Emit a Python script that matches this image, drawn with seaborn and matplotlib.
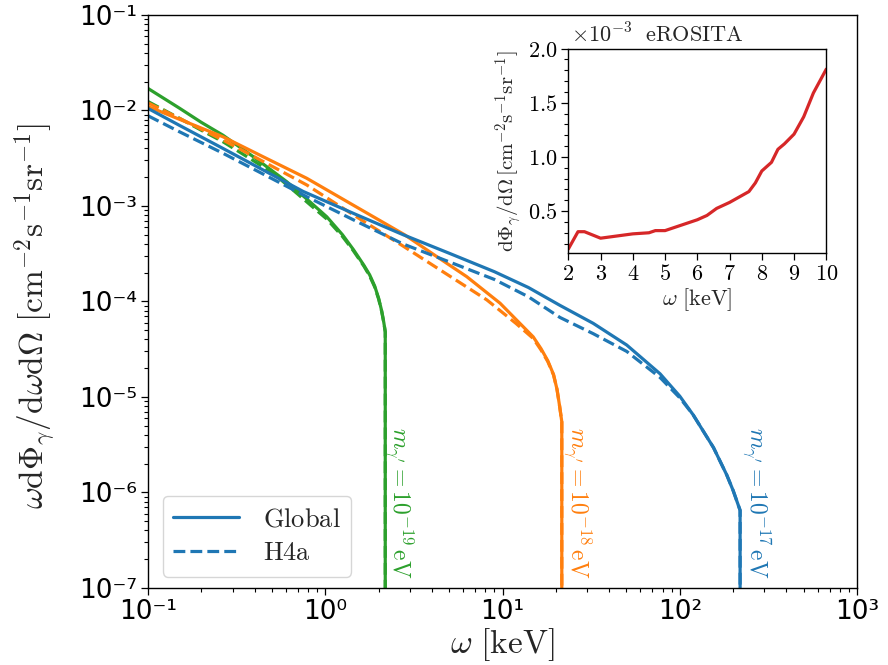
import numpy as np
import pandas as pd
import matplotlib
matplotlib.use("Agg")
import matplotlib.pyplot as plt
import seaborn as sns
from matplotlib.lines import Line2D
from matplotlib.ticker import FuncFormatter, LogLocator, MultipleLocator, NullFormatter

# ---------------- data ----------------
# m_gamma' = 1e-19 eV (green)
green_global_x = [0.1, 0.15, 0.2, 0.265, 0.4, 0.605, 0.8, 1.02, 1.25, 1.44, 1.65, 1.78, 1.9, 2.0, 2.08, 2.14, 2.18, 2.18]
green_global_y = [1.7e-2, 1.06e-2, 7.5e-3, 5.5e-3, 3.2e-3, 1.8e-3, 1.15e-3, 7.7e-4, 5.0e-4, 3.5e-4, 2.4e-4, 1.9e-4, 1.45e-4, 1.08e-4, 8.0e-5, 6.0e-5, 4.8e-5, 1e-9]
green_h4a_x = [0.1, 0.15, 0.2, 0.265, 0.38, 0.509, 0.7, 0.933, 1.02, 1.25, 1.44, 1.65, 1.78, 1.9, 2.0, 2.08, 2.14, 2.18, 2.18]
green_h4a_y = [1.24e-2, 8.3e-3, 6.2e-3, 4.7e-3, 3.1e-3, 2.2e-3, 1.33e-3, 8.4e-4, 7.3e-4, 4.8e-4, 3.4e-4, 2.35e-4, 1.85e-4, 1.42e-4, 1.06e-4, 7.9e-5, 6.0e-5, 4.8e-5, 1e-9]

# m_gamma' = 1e-18 eV (orange)
orange_global_x = [0.1, 0.15, 0.265, 0.45, 0.786, 1.5, 2.8, 4.2, 6.28, 9.68, 12.0, 14.9, 16.5, 18.0, 19.4, 20.3, 21.0, 21.6, 21.6]
orange_global_y = [1.1e-2, 8.1e-3, 5.3e-3, 3.25e-3, 1.95e-3, 9.75e-4, 5.0e-4, 3.0e-4, 1.82e-4, 9.6e-5, 6.4e-5, 4.26e-5, 3.2e-5, 2.4e-5, 1.72e-5, 1.2e-5, 8.0e-6, 5.5e-6, 1e-9]
orange_h4a_x = [0.1, 0.15, 0.265, 0.45, 0.786, 1.5, 2.75, 5.0, 8.15, 11.9, 14.9, 16.5, 18.0, 19.4, 20.3, 21.0, 21.6, 21.6]
orange_h4a_y = [1.2e-2, 8.3e-3, 4.9e-3, 2.9e-3, 1.66e-3, 7.7e-4, 3.8e-4, 1.86e-4, 1.04e-4, 5.9e-5, 4.1e-5, 3.1e-5, 2.35e-5, 1.7e-5, 1.2e-5, 8.0e-6, 5.5e-6, 1e-9]

# m_gamma' = 1e-17 eV (blue)
blue_global_x = [0.1, 0.15, 0.265, 0.45, 0.75, 1.5, 2.75, 5.0, 9.0, 14.0, 21.1, 32.5, 50.2, 77.4, 100.0, 119.0, 155.0, 184.0, 200.0, 219.0, 219.0]
blue_global_y = [1.05e-2, 7.0e-3, 4.0e-3, 2.36e-3, 1.42e-3, 8.1e-4, 5.0e-4, 3.2e-4, 2.05e-4, 1.4e-4, 9.1e-5, 5.9e-5, 3.5e-5, 1.75e-5, 1.02e-5, 6.5e-6, 2.95e-6, 1.53e-6, 1.05e-6, 6.5e-7, 1e-9]
blue_h4a_x = [0.1, 0.15, 0.265, 0.45, 0.786, 1.5, 2.75, 5.0, 9.0, 14.0, 21.1, 32.5, 50.2, 77.4, 100.0, 119.0, 155.0, 184.0, 200.0, 219.0, 219.0]
blue_h4a_y = [8.8e-3, 6.0e-3, 3.56e-3, 2.14e-3, 1.25e-3, 6.9e-4, 4.0e-4, 2.6e-4, 1.7e-4, 1.12e-4, 6.8e-5, 4.6e-5, 3.0e-5, 1.6e-5, 9.8e-6, 6.5e-6, 2.95e-6, 1.53e-6, 1.05e-6, 6.5e-7, 1e-9]

mass_labels = [r"$m_{\gamma^\prime}=10^{-19}\,\mathrm{eV}$",
               r"$m_{\gamma^\prime}=10^{-18}\,\mathrm{eV}$",
               r"$m_{\gamma^\prime}=10^{-17}\,\mathrm{eV}$"]
mass_label_x = [2.64, 26.7, 273.0]
model_names = ["Global", "H4a"]

# eROSITA inset
erosita_omega = [2.0, 2.3, 2.5, 3.0, 3.5, 4.0, 4.5, 4.7, 5.0, 5.5, 5.8, 6.0, 6.3, 6.6, 7.0, 7.3, 7.6, 7.8, 8.0, 8.3, 8.5, 8.7, 9.0, 9.3, 9.6, 10.0]
erosita_flux = np.array([0.15, 0.31, 0.31, 0.25, 0.27, 0.29, 0.30, 0.32, 0.32, 0.37, 0.40, 0.42, 0.46, 0.525, 0.58, 0.63, 0.68, 0.76, 0.87, 0.95, 1.07, 1.12, 1.21, 1.37, 1.59, 1.81]) * 1e-3

# ---------------- style ----------------
sns.set_style("ticks")
plt.rcParams["font.family"] = ["DejaVu Sans"]
plt.rcParams["mathtext.fontset"] = "cm"
plt.rcParams["axes.linewidth"] = 1.0
for a in ("xtick", "ytick"):
    plt.rcParams[f"{a}.major.size"] = 5
    plt.rcParams[f"{a}.minor.size"] = 3
    plt.rcParams[f"{a}.major.width"] = 0.9
    plt.rcParams[f"{a}.minor.width"] = 0.8
    plt.rcParams[f"{a}.color"] = "black"
plt.rcParams["axes.edgecolor"] = "black"

C0, C1, C2, C3 = "#1f77b4", "#ff7f0e", "#2ca02c", "#d62728"
LW = 2.3

fig = plt.figure(figsize=(8.88, 6.65), dpi=100)
ax = fig.add_axes([0.1667, 0.1158, 0.7984, 0.8617])

curves = [
    (green_global_x, green_global_y, C2, "-"),
    (green_h4a_x, green_h4a_y, C2, "--"),
    (orange_global_x, orange_global_y, C1, "-"),
    (orange_h4a_x, orange_h4a_y, C1, "--"),
    (blue_global_x, blue_global_y, C0, "-"),
    (blue_h4a_x, blue_h4a_y, C0, "--"),
]
for xs, ys, col, ls in curves:
    sns.lineplot(x=xs, y=ys, ax=ax, color=col, linestyle=ls, lw=LW,
                 sort=False, estimator=None)

ax.set_xscale("log")
ax.set_yscale("log")
ax.set_xlim(0.1, 1000)
ax.set_ylim(1e-7, 1e-1)

sup = str.maketrans("-0123456789", "⁻⁰¹²³⁴⁵⁶⁷⁸⁹")
def log_fmt(v, pos):
    e = int(round(np.log10(v)))
    return "10" + str(e).translate(sup)

ax.xaxis.set_major_locator(LogLocator(base=10, numticks=10))
ax.yaxis.set_major_locator(LogLocator(base=10, numticks=10))
ax.xaxis.set_minor_locator(LogLocator(base=10, subs=np.arange(2, 10), numticks=20))
ax.yaxis.set_minor_locator(LogLocator(base=10, subs=np.arange(2, 10), numticks=20))
ax.xaxis.set_major_formatter(FuncFormatter(log_fmt))
ax.yaxis.set_major_formatter(FuncFormatter(log_fmt))
ax.xaxis.set_minor_formatter(NullFormatter())
ax.yaxis.set_minor_formatter(NullFormatter())
ax.tick_params(axis="both", which="major", labelsize=19, pad=3)

ax.set_xlabel(r"$\omega\ [\mathrm{keV}]$", fontsize=24, labelpad=1)
ax.set_ylabel(r"$\omega\mathrm{d}\Phi_\gamma/\mathrm{d}\omega\mathrm{d}\Omega\ [\mathrm{cm}^{-2}\mathrm{s}^{-1}\mathrm{sr}^{-1}]$",
              fontsize=24)
ax.yaxis.set_label_coords(-0.128, 0.475)

for lab, xl, col in zip(mass_labels, mass_label_x, [C2, C1, C0]):
    ax.text(xl, 4.9e-6, lab, rotation=270, ha="center", va="top",
            color=col, fontsize=17)

handles = [Line2D([], [], color=C0, lw=LW, ls="-"),
           Line2D([], [], color=C0, lw=LW, ls="--")]
leg = ax.legend(handles, [rf"$\mathrm{{{n}}}$" for n in model_names],
                loc="lower left", bbox_to_anchor=(0.0207, 0.0197),
                borderaxespad=0, fontsize=19, handlelength=2.5,
                handletextpad=0.9, frameon=True, fancybox=True,
                edgecolor="0.8", borderpad=0.4, labelspacing=0.3)

# ---------------- inset ----------------
axi = fig.add_axes([0.640, 0.619, 0.2905, 0.308])
sns.lineplot(x=erosita_omega, y=erosita_flux, ax=axi, color=C3, lw=LW,
             sort=False, estimator=None)
axi.set_xlim(2, 10)
axi.set_ylim(0.11e-3, 2.0e-3)
axi.xaxis.set_major_locator(MultipleLocator(1))
axi.yaxis.set_major_locator(MultipleLocator(0.5e-3))
axi.yaxis.set_minor_locator(MultipleLocator(0.1e-3))
axi.xaxis.set_major_formatter(FuncFormatter(lambda v, p: rf"${v:.0f}$"))
axi.yaxis.set_major_formatter(FuncFormatter(lambda v, p: rf"${v*1e3:.1f}$"))
axi.tick_params(axis="both", which="major", labelsize=16, pad=3)
axi.set_xlabel(r"$\omega\ [\mathrm{keV}]$", fontsize=16, labelpad=1)
axi.set_ylabel(r"$\mathrm{d}\Phi_\gamma/\mathrm{d}\Omega\,[\mathrm{cm}^{-2}\mathrm{s}^{-1}\mathrm{sr}^{-1}]$",
               fontsize=15, labelpad=3)
axi.text(0.01, 1.01, r"$\times10^{-3}\ \ \mathrm{eROSITA}$", transform=axi.transAxes,
         ha="left", va="bottom", fontsize=16)

fig.savefig("out.png", dpi=100)
